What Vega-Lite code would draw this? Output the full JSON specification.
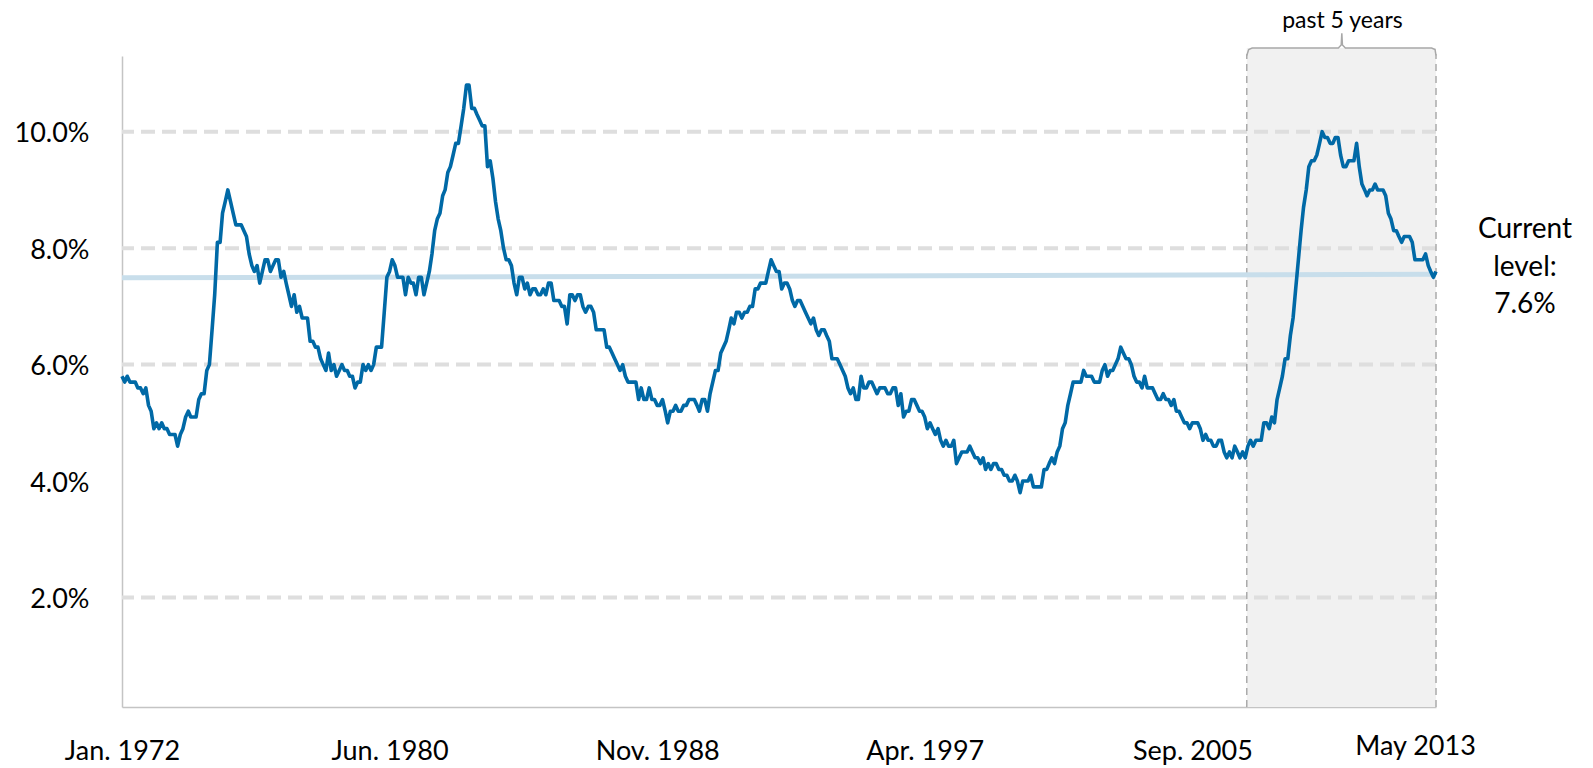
{
  "$schema": "https://vega.github.io/schema/vega-lite/v6.json",
  "width": 1314,
  "height": 651,
  "autosize": {"type": "none"},
  "padding": {"left": 122, "top": 56, "right": 157, "bottom": 61},
  "background": "white",
  "config": {
    "view": {"stroke": null},
    "font": "Lato",
    "axis": {"grid": false, "ticks": false, "title": null, "domainColor": "#c4c4c4", "domainWidth": 1.5, "labelFont": "Lato", "labelFontSize": 27, "labelColor": "#000000", "zindex": 1}
  },
  "datasets": {
    "unemp": [
      {"d":"1972-01","u":5.8},{"d":"1972-02","u":5.7},{"d":"1972-03","u":5.8},{"d":"1972-04","u":5.7},{"d":"1972-05","u":5.7},{"d":"1972-06","u":5.7},{"d":"1972-07","u":5.6},{"d":"1972-08","u":5.6},{"d":"1972-09","u":5.5},{"d":"1972-10","u":5.6},{"d":"1972-11","u":5.3},{"d":"1972-12","u":5.2},
      {"d":"1973-01","u":4.9},{"d":"1973-02","u":5.0},{"d":"1973-03","u":4.9},{"d":"1973-04","u":5.0},{"d":"1973-05","u":4.9},{"d":"1973-06","u":4.9},{"d":"1973-07","u":4.8},{"d":"1973-08","u":4.8},{"d":"1973-09","u":4.8},{"d":"1973-10","u":4.6},{"d":"1973-11","u":4.8},{"d":"1973-12","u":4.9},
      {"d":"1974-01","u":5.1},{"d":"1974-02","u":5.2},{"d":"1974-03","u":5.1},{"d":"1974-04","u":5.1},{"d":"1974-05","u":5.1},{"d":"1974-06","u":5.4},{"d":"1974-07","u":5.5},{"d":"1974-08","u":5.5},{"d":"1974-09","u":5.9},{"d":"1974-10","u":6.0},{"d":"1974-11","u":6.6},{"d":"1974-12","u":7.2},
      {"d":"1975-01","u":8.1},{"d":"1975-02","u":8.1},{"d":"1975-03","u":8.6},{"d":"1975-04","u":8.8},{"d":"1975-05","u":9.0},{"d":"1975-06","u":8.8},{"d":"1975-07","u":8.6},{"d":"1975-08","u":8.4},{"d":"1975-09","u":8.4},{"d":"1975-10","u":8.4},{"d":"1975-11","u":8.3},{"d":"1975-12","u":8.2},
      {"d":"1976-01","u":7.9},{"d":"1976-02","u":7.7},{"d":"1976-03","u":7.6},{"d":"1976-04","u":7.7},{"d":"1976-05","u":7.4},{"d":"1976-06","u":7.6},{"d":"1976-07","u":7.8},{"d":"1976-08","u":7.8},{"d":"1976-09","u":7.6},{"d":"1976-10","u":7.7},{"d":"1976-11","u":7.8},{"d":"1976-12","u":7.8},
      {"d":"1977-01","u":7.5},{"d":"1977-02","u":7.6},{"d":"1977-03","u":7.4},{"d":"1977-04","u":7.2},{"d":"1977-05","u":7.0},{"d":"1977-06","u":7.2},{"d":"1977-07","u":6.9},{"d":"1977-08","u":7.0},{"d":"1977-09","u":6.8},{"d":"1977-10","u":6.8},{"d":"1977-11","u":6.8},{"d":"1977-12","u":6.4},
      {"d":"1978-01","u":6.4},{"d":"1978-02","u":6.3},{"d":"1978-03","u":6.3},{"d":"1978-04","u":6.1},{"d":"1978-05","u":6.0},{"d":"1978-06","u":5.9},{"d":"1978-07","u":6.2},{"d":"1978-08","u":5.9},{"d":"1978-09","u":6.0},{"d":"1978-10","u":5.8},{"d":"1978-11","u":5.9},{"d":"1978-12","u":6.0},
      {"d":"1979-01","u":5.9},{"d":"1979-02","u":5.9},{"d":"1979-03","u":5.8},{"d":"1979-04","u":5.8},{"d":"1979-05","u":5.6},{"d":"1979-06","u":5.7},{"d":"1979-07","u":5.7},{"d":"1979-08","u":6.0},{"d":"1979-09","u":5.9},{"d":"1979-10","u":6.0},{"d":"1979-11","u":5.9},{"d":"1979-12","u":6.0},
      {"d":"1980-01","u":6.3},{"d":"1980-02","u":6.3},{"d":"1980-03","u":6.3},{"d":"1980-04","u":6.9},{"d":"1980-05","u":7.5},{"d":"1980-06","u":7.6},{"d":"1980-07","u":7.8},{"d":"1980-08","u":7.7},{"d":"1980-09","u":7.5},{"d":"1980-10","u":7.5},{"d":"1980-11","u":7.5},{"d":"1980-12","u":7.2},
      {"d":"1981-01","u":7.5},{"d":"1981-02","u":7.4},{"d":"1981-03","u":7.4},{"d":"1981-04","u":7.2},{"d":"1981-05","u":7.5},{"d":"1981-06","u":7.5},{"d":"1981-07","u":7.2},{"d":"1981-08","u":7.4},{"d":"1981-09","u":7.6},{"d":"1981-10","u":7.9},{"d":"1981-11","u":8.3},{"d":"1981-12","u":8.5},
      {"d":"1982-01","u":8.6},{"d":"1982-02","u":8.9},{"d":"1982-03","u":9.0},{"d":"1982-04","u":9.3},{"d":"1982-05","u":9.4},{"d":"1982-06","u":9.6},{"d":"1982-07","u":9.8},{"d":"1982-08","u":9.8},{"d":"1982-09","u":10.1},{"d":"1982-10","u":10.4},{"d":"1982-11","u":10.8},{"d":"1982-12","u":10.8},
      {"d":"1983-01","u":10.4},{"d":"1983-02","u":10.4},{"d":"1983-03","u":10.3},{"d":"1983-04","u":10.2},{"d":"1983-05","u":10.1},{"d":"1983-06","u":10.1},{"d":"1983-07","u":9.4},{"d":"1983-08","u":9.5},{"d":"1983-09","u":9.2},{"d":"1983-10","u":8.8},{"d":"1983-11","u":8.5},{"d":"1983-12","u":8.3},
      {"d":"1984-01","u":8.0},{"d":"1984-02","u":7.8},{"d":"1984-03","u":7.8},{"d":"1984-04","u":7.7},{"d":"1984-05","u":7.4},{"d":"1984-06","u":7.2},{"d":"1984-07","u":7.5},{"d":"1984-08","u":7.5},{"d":"1984-09","u":7.3},{"d":"1984-10","u":7.4},{"d":"1984-11","u":7.2},{"d":"1984-12","u":7.3},
      {"d":"1985-01","u":7.3},{"d":"1985-02","u":7.2},{"d":"1985-03","u":7.2},{"d":"1985-04","u":7.3},{"d":"1985-05","u":7.2},{"d":"1985-06","u":7.4},{"d":"1985-07","u":7.4},{"d":"1985-08","u":7.1},{"d":"1985-09","u":7.1},{"d":"1985-10","u":7.1},{"d":"1985-11","u":7.0},{"d":"1985-12","u":7.0},
      {"d":"1986-01","u":6.7},{"d":"1986-02","u":7.2},{"d":"1986-03","u":7.2},{"d":"1986-04","u":7.1},{"d":"1986-05","u":7.2},{"d":"1986-06","u":7.2},{"d":"1986-07","u":7.0},{"d":"1986-08","u":6.9},{"d":"1986-09","u":7.0},{"d":"1986-10","u":7.0},{"d":"1986-11","u":6.9},{"d":"1986-12","u":6.6},
      {"d":"1987-01","u":6.6},{"d":"1987-02","u":6.6},{"d":"1987-03","u":6.6},{"d":"1987-04","u":6.3},{"d":"1987-05","u":6.3},{"d":"1987-06","u":6.2},{"d":"1987-07","u":6.1},{"d":"1987-08","u":6.0},{"d":"1987-09","u":5.9},{"d":"1987-10","u":6.0},{"d":"1987-11","u":5.8},{"d":"1987-12","u":5.7},
      {"d":"1988-01","u":5.7},{"d":"1988-02","u":5.7},{"d":"1988-03","u":5.7},{"d":"1988-04","u":5.4},{"d":"1988-05","u":5.6},{"d":"1988-06","u":5.4},{"d":"1988-07","u":5.4},{"d":"1988-08","u":5.6},{"d":"1988-09","u":5.4},{"d":"1988-10","u":5.4},{"d":"1988-11","u":5.3},{"d":"1988-12","u":5.3},
      {"d":"1989-01","u":5.4},{"d":"1989-02","u":5.2},{"d":"1989-03","u":5.0},{"d":"1989-04","u":5.2},{"d":"1989-05","u":5.2},{"d":"1989-06","u":5.3},{"d":"1989-07","u":5.2},{"d":"1989-08","u":5.2},{"d":"1989-09","u":5.3},{"d":"1989-10","u":5.3},{"d":"1989-11","u":5.4},{"d":"1989-12","u":5.4},
      {"d":"1990-01","u":5.4},{"d":"1990-02","u":5.3},{"d":"1990-03","u":5.2},{"d":"1990-04","u":5.4},{"d":"1990-05","u":5.4},{"d":"1990-06","u":5.2},{"d":"1990-07","u":5.5},{"d":"1990-08","u":5.7},{"d":"1990-09","u":5.9},{"d":"1990-10","u":5.9},{"d":"1990-11","u":6.2},{"d":"1990-12","u":6.3},
      {"d":"1991-01","u":6.4},{"d":"1991-02","u":6.6},{"d":"1991-03","u":6.8},{"d":"1991-04","u":6.7},{"d":"1991-05","u":6.9},{"d":"1991-06","u":6.9},{"d":"1991-07","u":6.8},{"d":"1991-08","u":6.9},{"d":"1991-09","u":6.9},{"d":"1991-10","u":7.0},{"d":"1991-11","u":7.0},{"d":"1991-12","u":7.3},
      {"d":"1992-01","u":7.3},{"d":"1992-02","u":7.4},{"d":"1992-03","u":7.4},{"d":"1992-04","u":7.4},{"d":"1992-05","u":7.6},{"d":"1992-06","u":7.8},{"d":"1992-07","u":7.7},{"d":"1992-08","u":7.6},{"d":"1992-09","u":7.6},{"d":"1992-10","u":7.3},{"d":"1992-11","u":7.4},{"d":"1992-12","u":7.4},
      {"d":"1993-01","u":7.3},{"d":"1993-02","u":7.1},{"d":"1993-03","u":7.0},{"d":"1993-04","u":7.1},{"d":"1993-05","u":7.1},{"d":"1993-06","u":7.0},{"d":"1993-07","u":6.9},{"d":"1993-08","u":6.8},{"d":"1993-09","u":6.7},{"d":"1993-10","u":6.8},{"d":"1993-11","u":6.6},{"d":"1993-12","u":6.5},
      {"d":"1994-01","u":6.6},{"d":"1994-02","u":6.6},{"d":"1994-03","u":6.5},{"d":"1994-04","u":6.4},{"d":"1994-05","u":6.1},{"d":"1994-06","u":6.1},{"d":"1994-07","u":6.1},{"d":"1994-08","u":6.0},{"d":"1994-09","u":5.9},{"d":"1994-10","u":5.8},{"d":"1994-11","u":5.6},{"d":"1994-12","u":5.5},
      {"d":"1995-01","u":5.6},{"d":"1995-02","u":5.4},{"d":"1995-03","u":5.4},{"d":"1995-04","u":5.8},{"d":"1995-05","u":5.6},{"d":"1995-06","u":5.6},{"d":"1995-07","u":5.7},{"d":"1995-08","u":5.7},{"d":"1995-09","u":5.6},{"d":"1995-10","u":5.5},{"d":"1995-11","u":5.6},{"d":"1995-12","u":5.6},
      {"d":"1996-01","u":5.6},{"d":"1996-02","u":5.5},{"d":"1996-03","u":5.5},{"d":"1996-04","u":5.6},{"d":"1996-05","u":5.6},{"d":"1996-06","u":5.3},{"d":"1996-07","u":5.5},{"d":"1996-08","u":5.1},{"d":"1996-09","u":5.2},{"d":"1996-10","u":5.2},{"d":"1996-11","u":5.4},{"d":"1996-12","u":5.4},
      {"d":"1997-01","u":5.3},{"d":"1997-02","u":5.2},{"d":"1997-03","u":5.2},{"d":"1997-04","u":5.1},{"d":"1997-05","u":4.9},{"d":"1997-06","u":5.0},{"d":"1997-07","u":4.9},{"d":"1997-08","u":4.8},{"d":"1997-09","u":4.9},{"d":"1997-10","u":4.7},{"d":"1997-11","u":4.6},{"d":"1997-12","u":4.7},
      {"d":"1998-01","u":4.6},{"d":"1998-02","u":4.6},{"d":"1998-03","u":4.7},{"d":"1998-04","u":4.3},{"d":"1998-05","u":4.4},{"d":"1998-06","u":4.5},{"d":"1998-07","u":4.5},{"d":"1998-08","u":4.5},{"d":"1998-09","u":4.6},{"d":"1998-10","u":4.5},{"d":"1998-11","u":4.4},{"d":"1998-12","u":4.4},
      {"d":"1999-01","u":4.3},{"d":"1999-02","u":4.4},{"d":"1999-03","u":4.2},{"d":"1999-04","u":4.3},{"d":"1999-05","u":4.2},{"d":"1999-06","u":4.3},{"d":"1999-07","u":4.3},{"d":"1999-08","u":4.2},{"d":"1999-09","u":4.2},{"d":"1999-10","u":4.1},{"d":"1999-11","u":4.1},{"d":"1999-12","u":4.0},
      {"d":"2000-01","u":4.0},{"d":"2000-02","u":4.1},{"d":"2000-03","u":4.0},{"d":"2000-04","u":3.8},{"d":"2000-05","u":4.0},{"d":"2000-06","u":4.0},{"d":"2000-07","u":4.0},{"d":"2000-08","u":4.1},{"d":"2000-09","u":3.9},{"d":"2000-10","u":3.9},{"d":"2000-11","u":3.9},{"d":"2000-12","u":3.9},
      {"d":"2001-01","u":4.2},{"d":"2001-02","u":4.2},{"d":"2001-03","u":4.3},{"d":"2001-04","u":4.4},{"d":"2001-05","u":4.3},{"d":"2001-06","u":4.5},{"d":"2001-07","u":4.6},{"d":"2001-08","u":4.9},{"d":"2001-09","u":5.0},{"d":"2001-10","u":5.3},{"d":"2001-11","u":5.5},{"d":"2001-12","u":5.7},
      {"d":"2002-01","u":5.7},{"d":"2002-02","u":5.7},{"d":"2002-03","u":5.7},{"d":"2002-04","u":5.9},{"d":"2002-05","u":5.8},{"d":"2002-06","u":5.8},{"d":"2002-07","u":5.8},{"d":"2002-08","u":5.7},{"d":"2002-09","u":5.7},{"d":"2002-10","u":5.7},{"d":"2002-11","u":5.9},{"d":"2002-12","u":6.0},
      {"d":"2003-01","u":5.8},{"d":"2003-02","u":5.9},{"d":"2003-03","u":5.9},{"d":"2003-04","u":6.0},{"d":"2003-05","u":6.1},{"d":"2003-06","u":6.3},{"d":"2003-07","u":6.2},{"d":"2003-08","u":6.1},{"d":"2003-09","u":6.1},{"d":"2003-10","u":6.0},{"d":"2003-11","u":5.8},{"d":"2003-12","u":5.7},
      {"d":"2004-01","u":5.7},{"d":"2004-02","u":5.6},{"d":"2004-03","u":5.8},{"d":"2004-04","u":5.6},{"d":"2004-05","u":5.6},{"d":"2004-06","u":5.6},{"d":"2004-07","u":5.5},{"d":"2004-08","u":5.4},{"d":"2004-09","u":5.4},{"d":"2004-10","u":5.5},{"d":"2004-11","u":5.4},{"d":"2004-12","u":5.4},
      {"d":"2005-01","u":5.3},{"d":"2005-02","u":5.4},{"d":"2005-03","u":5.2},{"d":"2005-04","u":5.2},{"d":"2005-05","u":5.1},{"d":"2005-06","u":5.0},{"d":"2005-07","u":5.0},{"d":"2005-08","u":4.9},{"d":"2005-09","u":5.0},{"d":"2005-10","u":5.0},{"d":"2005-11","u":5.0},{"d":"2005-12","u":4.9},
      {"d":"2006-01","u":4.7},{"d":"2006-02","u":4.8},{"d":"2006-03","u":4.7},{"d":"2006-04","u":4.7},{"d":"2006-05","u":4.6},{"d":"2006-06","u":4.6},{"d":"2006-07","u":4.7},{"d":"2006-08","u":4.7},{"d":"2006-09","u":4.5},{"d":"2006-10","u":4.4},{"d":"2006-11","u":4.5},{"d":"2006-12","u":4.4},
      {"d":"2007-01","u":4.6},{"d":"2007-02","u":4.5},{"d":"2007-03","u":4.4},{"d":"2007-04","u":4.5},{"d":"2007-05","u":4.4},{"d":"2007-06","u":4.6},{"d":"2007-07","u":4.7},{"d":"2007-08","u":4.6},{"d":"2007-09","u":4.7},{"d":"2007-10","u":4.7},{"d":"2007-11","u":4.7},{"d":"2007-12","u":5.0},
      {"d":"2008-01","u":5.0},{"d":"2008-02","u":4.9},{"d":"2008-03","u":5.1},{"d":"2008-04","u":5.0},{"d":"2008-05","u":5.4},{"d":"2008-06","u":5.6},{"d":"2008-07","u":5.8},{"d":"2008-08","u":6.1},{"d":"2008-09","u":6.1},{"d":"2008-10","u":6.5},{"d":"2008-11","u":6.8},{"d":"2008-12","u":7.3},
      {"d":"2009-01","u":7.8},{"d":"2009-02","u":8.3},{"d":"2009-03","u":8.7},{"d":"2009-04","u":9.0},{"d":"2009-05","u":9.4},{"d":"2009-06","u":9.5},{"d":"2009-07","u":9.5},{"d":"2009-08","u":9.6},{"d":"2009-09","u":9.8},{"d":"2009-10","u":10.0},{"d":"2009-11","u":9.9},{"d":"2009-12","u":9.9},
      {"d":"2010-01","u":9.8},{"d":"2010-02","u":9.8},{"d":"2010-03","u":9.9},{"d":"2010-04","u":9.9},{"d":"2010-05","u":9.6},{"d":"2010-06","u":9.4},{"d":"2010-07","u":9.4},{"d":"2010-08","u":9.5},{"d":"2010-09","u":9.5},{"d":"2010-10","u":9.5},{"d":"2010-11","u":9.8},{"d":"2010-12","u":9.4},
      {"d":"2011-01","u":9.1},{"d":"2011-02","u":9.0},{"d":"2011-03","u":8.9},{"d":"2011-04","u":9.0},{"d":"2011-05","u":9.0},{"d":"2011-06","u":9.1},{"d":"2011-07","u":9.0},{"d":"2011-08","u":9.0},{"d":"2011-09","u":9.0},{"d":"2011-10","u":8.9},{"d":"2011-11","u":8.6},{"d":"2011-12","u":8.5},
      {"d":"2012-01","u":8.3},{"d":"2012-02","u":8.3},{"d":"2012-03","u":8.2},{"d":"2012-04","u":8.1},{"d":"2012-05","u":8.2},{"d":"2012-06","u":8.2},{"d":"2012-07","u":8.2},{"d":"2012-08","u":8.1},{"d":"2012-09","u":7.8},{"d":"2012-10","u":7.8},{"d":"2012-11","u":7.8},{"d":"2012-12","u":7.8},
      {"d":"2013-01","u":7.9},{"d":"2013-02","u":7.7},{"d":"2013-03","u":7.6},{"d":"2013-04","u":7.5},{"d":"2013-05","u":7.6}
    ],
    "shade": [{"start": "2007-05-19", "end": "2013-05-01", "lo": 0.12, "hi": 11.437}],
    "edges": [{"d": "2007-05-19", "lo": 0.12, "hi": 11.33}, {"d": "2013-05-01", "lo": 0.12, "hi": 11.33}],
    "grid": [{"v": 2}, {"v": 6}, {"v": 8}, {"v": 10}],
    "current": [{"start": "1972-01-01", "end": "2013-05-01", "a": 7.49, "b": 7.55}],
    "bracket": [
      {"i": 0, "d": "2007-05-19", "v": 11.31},
      {"i": 1, "d": "2007-06-10", "v": 11.41},
      {"i": 2, "d": "2007-07-20", "v": 11.437},
      {"i": 3, "d": "2010-04-05", "v": 11.437},
      {"i": 4, "d": "2010-05-08", "v": 11.49},
      {"i": 5, "d": "2010-05-15", "v": 11.69},
      {"i": 6, "d": "2010-05-22", "v": 11.49},
      {"i": 7, "d": "2010-06-25", "v": 11.437},
      {"i": 8, "d": "2013-03-12", "v": 11.437},
      {"i": 9, "d": "2013-04-20", "v": 11.41},
      {"i": 10, "d": "2013-05-01", "v": 11.31}
    ],
    "note5": [{"d": "2010-05-22", "v": 11.3, "t": "past 5 years"}],
    "noteCur": [{"d": "2013-05-01", "v": 7.6, "t": ["Current", "level:", "7.6%"]}]
  },
  "layer": [
    {
      "data": {"name": "shade"},
      "mark": {"type": "rect", "fill": "#f1f1f1"},
      "encoding": {
        "x": {"field": "start", "type": "temporal", "scale": {"type": "utc", "domain": [{"year": 1972, "month": 1, "date": 1, "utc": true}, {"year": 2013, "month": 5, "date": 1, "utc": true}]}},
        "x2": {"field": "end"},
        "y": {"field": "lo", "type": "quantitative", "scale": {"domain": [0.12, 11.3], "nice": false, "zero": false}},
        "y2": {"field": "hi"}
      }
    },
    {
      "data": {"name": "grid"},
      "mark": {"type": "rule", "stroke": "#dedede", "strokeWidth": 4, "strokeDash": [14, 7]},
      "encoding": {
        "y": {"field": "v", "type": "quantitative", "scale": {"domain": [0.12, 11.3], "nice": false, "zero": false}}
      }
    },
    {
      "data": {"name": "edges"},
      "mark": {"type": "rule", "stroke": "#ababab", "strokeWidth": 1.5, "strokeDash": [7, 5]},
      "encoding": {
        "x": {"field": "d", "type": "temporal", "scale": {"type": "utc", "domain": [{"year": 1972, "month": 1, "date": 1, "utc": true}, {"year": 2013, "month": 5, "date": 1, "utc": true}]}},
        "y": {"field": "lo", "type": "quantitative", "scale": {"domain": [0.12, 11.3], "nice": false, "zero": false}},
        "y2": {"field": "hi"}
      }
    },
    {
      "data": {"name": "current"},
      "mark": {"type": "rule", "stroke": "#c8deeb", "strokeWidth": 5},
      "encoding": {
        "x": {"field": "start", "type": "temporal", "scale": {"type": "utc", "domain": [{"year": 1972, "month": 1, "date": 1, "utc": true}, {"year": 2013, "month": 5, "date": 1, "utc": true}]}},
        "x2": {"field": "end"},
        "y": {"field": "a", "type": "quantitative", "scale": {"domain": [0.12, 11.3], "nice": false, "zero": false}},
        "y2": {"field": "b"}
      }
    },
    {
      "data": {"name": "unemp"},
      "mark": {"type": "line", "color": "#0069a6", "strokeWidth": 3.6, "strokeJoin": "round"},
      "encoding": {
        "x": {
          "field": "d", "type": "temporal",
          "scale": {"type": "utc", "domain": [{"year": 1972, "month": 1, "date": 1, "utc": true}, {"year": 2013, "month": 5, "date": 1, "utc": true}]},
          "axis": {
            "values": [
              {"year": 1972, "month": 1, "date": 1, "utc": true},
              {"year": 1980, "month": 6, "date": 1, "utc": true},
              {"year": 1988, "month": 11, "date": 1, "utc": true},
              {"year": 1997, "month": 4, "date": 1, "utc": true},
              {"year": 2005, "month": 9, "date": 1, "utc": true},
              {"year": 2013, "month": 5, "date": 1, "utc": true}
            ],
            "labelExpr": "utcyear(datum.value) == 2013 ? 'May 2013' : utcFormat(datum.value, '%b. %Y')",
            "title": null,
            "grid": false,
            "ticks": false,
            "labelPadding": {"condition": {"test": "utcyear(datum.value) == 2013", "value": 26}, "value": 31},
            "labelOffset": {"condition": {"test": "utcyear(datum.value) == 2013", "value": -21}, "value": 0},
            "labelFlush": false,
            "labelOverlap": false
          }
        },
        "y": {
          "field": "u", "type": "quantitative",
          "scale": {"domain": [0.12, 11.3], "nice": false, "zero": false},
          "axis": {
            "values": [2, 4, 6, 8, 10],
            "labelExpr": "format(datum.value, '.1f') + '%'",
            "title": null,
            "grid": false,
            "ticks": false,
            "labelPadding": 33,
            "labelOffset": 2
          }
        }
      }
    },
    {
      "data": {"name": "bracket"},
      "mark": {"type": "line", "stroke": "#a8a8a8", "strokeWidth": 1.5},
      "encoding": {
        "x": {"field": "d", "type": "temporal", "scale": {"type": "utc", "domain": [{"year": 1972, "month": 1, "date": 1, "utc": true}, {"year": 2013, "month": 5, "date": 1, "utc": true}]}},
        "y": {"field": "v", "type": "quantitative", "scale": {"domain": [0.12, 11.3], "nice": false, "zero": false}},
        "order": {"field": "i", "type": "quantitative"}
      }
    },
    {
      "data": {"name": "note5"},
      "mark": {"type": "text", "font": "Lato", "fontSize": 23, "color": "#000000", "align": "center", "baseline": "alphabetic", "dy": -28},
      "encoding": {
        "x": {"field": "d", "type": "temporal", "scale": {"type": "utc", "domain": [{"year": 1972, "month": 1, "date": 1, "utc": true}, {"year": 2013, "month": 5, "date": 1, "utc": true}]}},
        "y": {"field": "v", "type": "quantitative", "scale": {"domain": [0.12, 11.3], "nice": false, "zero": false}},
        "text": {"field": "t"}
      }
    },
    {
      "data": {"name": "noteCur"},
      "mark": {"type": "text", "font": "Lato", "fontSize": 28, "color": "#000000", "align": "center", "baseline": "alphabetic", "lineHeight": 37.5, "dx": 89, "dy": -33},
      "encoding": {
        "x": {"field": "d", "type": "temporal", "scale": {"type": "utc", "domain": [{"year": 1972, "month": 1, "date": 1, "utc": true}, {"year": 2013, "month": 5, "date": 1, "utc": true}]}},
        "y": {"field": "v", "type": "quantitative", "scale": {"domain": [0.12, 11.3], "nice": false, "zero": false}},
        "text": {"field": "t"}
      }
    }
  ]
}
